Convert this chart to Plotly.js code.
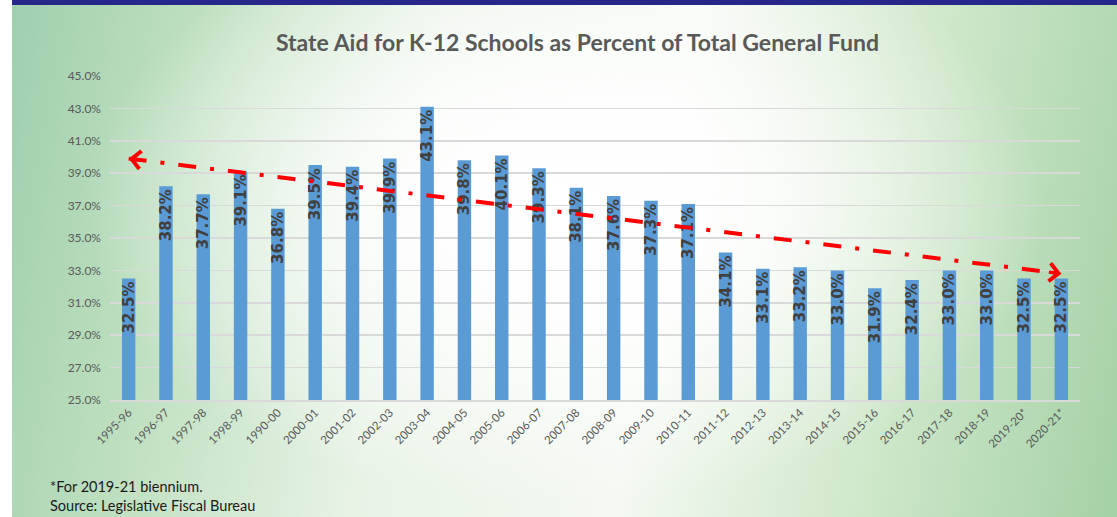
<!DOCTYPE html>
<html>
<head>
<meta charset="utf-8">
<script src="https://cdn.plot.ly/plotly-3.0.1.min.js"></script>
<style>
  html, body { margin: 0; padding: 0; background: #ffffff; }
  #wrap { position: absolute; left: 12px; top: 0; width: 1105px; height: 517px; overflow: hidden;
    background:
      radial-gradient(ellipse 480px 300px at 50% 40%, rgba(255,255,255,1) 0%, rgba(255,255,255,0.85) 40%, rgba(255,255,255,0) 100%),
      linear-gradient(100deg, #9fcfae 0%, #bfe0c0 16%, #e8f3e6 36%, #f4f9f2 58%, #d0e8cb 78%, #a4d1a6 100%);
  }
  #band { position: absolute; left: 12px; top: 0; width: 1105px; height: 5px; background: #27278b; }
  #chart { position: absolute; left: 0; top: 0; width: 1117px; height: 517px; }
</style>
</head>
<body>
<div id="wrap"></div>
<div id="band"></div>
<div id="chart"></div>
<script>
const categories = ['1995-96','1996-97','1997-98','1998-99','1990-00','2000-01','2001-02','2002-03','2003-04','2004-05','2005-06','2006-07','2007-08','2008-09','2009-10','2010-11','2011-12','2012-13','2013-14','2014-15','2015-16','2016-17','2017-18','2018-19','2019-20*','2020-21*'];
const aidPercent = [32.5,38.2,37.7,39.1,36.8,39.5,39.4,39.9,43.1,39.8,40.1,39.3,38.1,37.6,37.3,37.1,34.1,33.1,33.2,33.0,31.9,32.4,33.0,33.0,32.5,32.5];
const trendX = ['1995-96','2020-21*'];
const trendY = [39.9, 32.8];
const yTickValues = [25,27,29,31,33,35,37,39,41,43,45];
const footnotes = ['*For 2019-21 biennium.', 'Source: Legislative Fiscal Bureau'];

const bars = {
  type: 'bar', x: categories, y: aidPercent,
  marker: { color: '#5b9bd5' },
  text: aidPercent.map(v => '<b>' + v.toFixed(1) + '%</b>'),
  textposition: 'inside', insidetextanchor: 'end', textangle: -90,
  textfont: { family: '"DejaVu Sans", sans-serif', size: 15, color: '#404040', weight: 700 },
  constraintext: 'none',
  cliponaxis: false, hoverinfo: 'skip'
};
const trend = {
  type: 'scatter', mode: 'lines', x: trendX, y: trendY,
  line: { color: '#ff0000', width: 4, dash: '18px,14px,4px,14px' }, hoverinfo: 'skip'
};

const L = 110, R = 37, T = 76, B = 117, W = 1117, H = 517;
const pw = W - L - R, ph = H - T - B;
const annotations = [
  { x: trendX[0], y: trendY[0], xref: 'x', yref: 'y', showarrow: true, ax: 14, ay: 1.7,
    arrowhead: 4, arrowsize: 1, arrowwidth: 3.5, arrowcolor: '#ff0000', standoff: 0, text: '' },
  { x: trendX[1], y: trendY[1], xref: 'x', yref: 'y', showarrow: true, ax: -14, ay: -1.7,
    arrowhead: 4, arrowsize: 1, arrowwidth: 3.5, arrowcolor: '#ff0000', standoff: 0, text: '' },
  { x: (48 - L) / pw, y: 1 - (486 - T) / ph, xref: 'paper', yref: 'paper', xanchor: 'left', yanchor: 'middle',
    text: footnotes[0], showarrow: false, font: { family: 'Lato, sans-serif', size: 14.5, color: '#1a1a1a' } },
  { x: (48 - L) / pw, y: 1 - (505 - T) / ph, xref: 'paper', yref: 'paper', xanchor: 'left', yanchor: 'middle',
    text: footnotes[1], showarrow: false, font: { family: 'Lato, sans-serif', size: 14.5, color: '#1a1a1a' } }
];

const layout = {
  width: W, height: H,
  margin: { l: L, r: R, t: T, b: B },
  paper_bgcolor: 'rgba(0,0,0,0)', plot_bgcolor: 'rgba(0,0,0,0)',
  title: { text: '<b>State Aid for K-12 Schools as Percent of Total General Fund</b>',
    x: 0.517, xanchor: 'center', y: 0.917, yanchor: 'middle',
    font: { family: 'Lato, "Open Sans", sans-serif', size: 23, color: '#595959' } },
  showlegend: false,
  bargap: 0.64,
  uniformtext: { minsize: 15, mode: 'show' },
  xaxis: { type: 'category', tickangle: -45, showgrid: false, zeroline: false,
    showline: true, linecolor: '#d9d9d9', linewidth: 1.5, ticks: '',
    tickfont: { family: 'Lato, "Open Sans", sans-serif', size: 11.5, color: '#595959' } },
  yaxis: { range: [25, 45], tickvals: yTickValues, ticktext: yTickValues.map(v => v.toFixed(1) + '%'),
    showgrid: true, gridcolor: '#d9d9d9', gridwidth: 1.5, zeroline: false, showline: false, ticks: '',
    ticklabelstandoff: 8,
    tickfont: { family: 'Lato, "Open Sans", sans-serif', size: 12, color: '#595959' } },
  annotations: annotations
};

Plotly.newPlot('chart', [bars, trend], layout, { staticPlot: true, displayModeBar: false });
</script>
</body>
</html>
